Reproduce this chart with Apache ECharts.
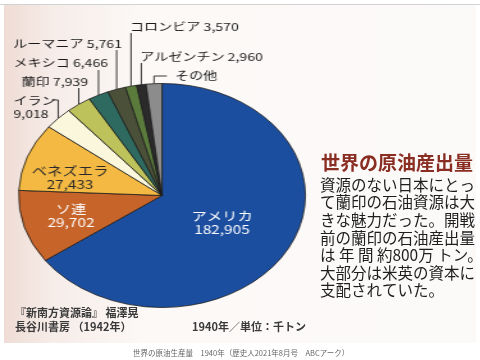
<!DOCTYPE html>
<html><head><meta charset="utf-8">
<script src="https://cdn.jsdelivr.net/npm/echarts@6/dist/echarts.min.js"></script>
<style>
html,body{margin:0;padding:0;width:480px;height:360px;overflow:hidden;background:#ffffff;}
#bg{position:absolute;left:0;top:0;width:480px;height:360px;}
#pie{position:absolute;left:0;top:0;width:300px;height:360px;transform:scaleX(1.28);transform-origin:0 0;}
</style></head><body>
<div id="bg"></div><div id="pie"></div>
<script>
// ---- data ----
const categories = ['アメリカ','ソ連','ベネズエラ','イラン','蘭印','メキシコ','ルーマニア','コロンビア','アルゼンチン','その他'];
const production = [182905, 29702, 27433, 9018, 7939, 6466, 5761, 3570, 2960, 5000];
const titleText = '世界の原油産出量';
const bodyLines = ['資源のない日本にとっ','て蘭印の石油資源は大','きな魅力だった。開戦','前の蘭印の石油産出量','は 年 間 約800万 トン。','大部分は米英の資本に','支配されていた。'];
const sourceLines = ['『新南方資源論』 福澤晃','長谷川書房 （1942年）'];
const unitText = '1940年／単位：千トン';
const captionText = '世界の原油生産量　1940年（歴史人2021年8月号　ABCアーク）';

// ---- style ----
const sliceColors = ['#1c4e9f','#c6642a','#f4b942','#fbf7dc','#bdc25b','#2e6a5f','#4b5139','#5b7b3c','#2b2b2b','#8c8c8c'];
const FONT = '"Noto Sans CJK JP","Noto Sans",sans-serif';
// label placement (pie-layer pixel space)
const labelSpec = [
  {mode:'inside', x:173.4, y:223.3, align:'center', color:'#ffffff'},
  {mode:'inside', x:55.5, y:216, align:'center', color:'#ffffff'},
  {mode:'inside', x:54.7, y:177.5, align:'center', color:'#2a2a2a'},
  {mode:'two', x:10.5, y:107.5, align:'left', lineY:100, hook:-5},
  {mode:'line', x:68.8, y:82, align:'right', lineY:88},
  {mode:'line', x:84.4, y:63, align:'right', lineY:70},
  {mode:'line', x:95.3, y:44, align:'right', lineY:50},
  {mode:'line', x:101.6, y:27, align:'left', lineY:33},
  {mode:'line', x:109.4, y:57, align:'left', lineY:63},
  {mode:'name', x:136.7, y:76, align:'left', lineY:76, hook:10}
];
const fmt = v => Number(v).toLocaleString('en-US');

const pieData = categories.map((name, i) => {
  const s = labelSpec[i];
  const item = {name: name, value: production[i], itemStyle: {color: sliceColors[i]}};
  if (s.mode === 'inside') {
    item.label = {position: 'inside', color: s.color, fontSize: 12, lineHeight: 13};
    item.labelLine = {show: false};
  }
  return item;
});

const pieChart = echarts.init(document.getElementById('pie'), null, {renderer: 'canvas'});
pieChart.setOption({
  backgroundColor: 'transparent',
  animation: false,
  series: [{
    type: 'pie',
    center: [126.6, 195.5],
    radius: 112,
    startAngle: 90,
    clockwise: true,
    avoidLabelOverlap: false,
    data: pieData,
    itemStyle: {borderColor: '#1a1a1a', borderWidth: 0.8},
    emphasis: {disabled: true},
    label: {
      show: true,
      position: 'outside',
      fontFamily: FONT,
      fontSize: 11,
      lineHeight: 13,
      color: '#1a1a1a',
      formatter: function (p) {
        const s = labelSpec[p.dataIndex];
        if (s.mode === 'inside' || s.mode === 'two') return p.name + '\n' + fmt(p.value);
        if (s.mode === 'name') return p.name;
        return p.name + ' ' + fmt(p.value);
      }
    },
    labelLine: {show: true, length: 10, length2: 5, smooth: false, lineStyle: {color: '#222222', width: 0.9}},
    labelLayout: function (p) {
      const s = labelSpec[p.dataIndex];
      const out = {x: s.x, y: s.y, align: s.align, verticalAlign: 'middle'};
      if (s.lineY !== undefined && p.labelLinePoints && p.labelLinePoints.length) {
        const rim = p.labelLinePoints[0];
        const pts = [[rim[0], rim[1]], [rim[0], s.lineY]];
        if (s.hook !== undefined) pts.push([rim[0] + s.hook, s.lineY]);
        out.labelLinePoints = pts;
      }
      return out;
    }
  }]
});

const bgChart = echarts.init(document.getElementById('bg'), null, {renderer: 'canvas'});
function txt(x, y, text, font, fill, lh) {
  return {type: 'text', x: x, y: y, style: {text: text, font: font, fill: fill, lineHeight: lh,
    align: 'left', verticalAlign: 'top', textAlign: 'left', textVerticalAlign: 'top'}};
}
bgChart.setOption({
  backgroundColor: '#ffffff',
  animation: false,
  graphic: [
    {type: 'rect', shape: {x: 4, y: 5, width: 472, height: 338}, z: 0,
      style: {fill: {type: 'linear', x: 0, y: 0, x2: 1, y2: 0, colorStops: [
        {offset: 0, color: '#efdcd5'}, {offset: 0.1, color: '#f6ece8'},
        {offset: 0.3, color: '#fcf9f7'}, {offset: 1, color: '#fcfaf9'}]}}},
    {type: 'line', shape: {x1: 0, y1: 4.5, x2: 480, y2: 4.5}, style: {stroke: '#d2d2d2', lineWidth: 1}},
    txt(321, 153.5, titleText, 'bold 19px ' + FONT, '#8a2d22', 19),
    txt(320, 176.2, bodyLines.join('\n'), '15.5px ' + FONT, '#1e1e1e', 17.6),
    txt(15, 306, sourceLines.join('\n'), 'bold 11px ' + FONT, '#3a3a3a', 14),
    txt(192, 320, unitText, 'bold 11px ' + FONT, '#3a3a3a', 14),
    txt(133, 348, captionText, '7.5px ' + FONT, '#666666', 10)
  ]
});
</script>
</body></html>
